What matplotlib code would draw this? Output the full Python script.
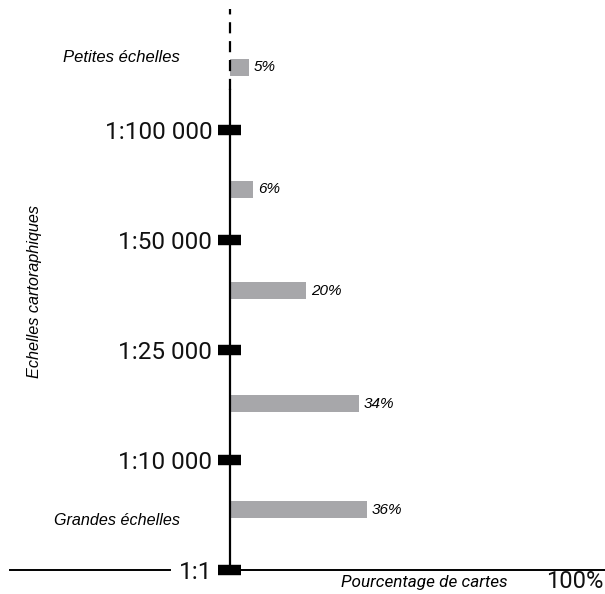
import matplotlib.pyplot as plt
import numpy as np

plt.rcParams['font.family'] = ['Roboto', 'DejaVu Sans']

# data
scale_labels = ["1:1", "1:10 000", "1:25 000", "1:50 000", "1:100 000"]
bar_pos = [0.55, 1.51, 2.54, 3.46, 4.57]
shares = [36, 34, 20, 6, 5]

arial = ['Liberation Sans', 'DejaVu Sans']

fig = plt.figure(figsize=(6.05, 5.94), dpi=100)
ax = fig.add_axes([230 / 605, 24 / 594, 380 / 605, 5.3 * 110 / 594])
ax.set_xlim(0, 100)
ax.set_ylim(0, 5.3)
ax.axis('off')

ax.barh(bar_pos, shares, height=0.155, color='#a7a7aa', zorder=2)
for y, v in zip(bar_pos, shares):
    ax.text(v + 1.3, y, f"{v}%", fontsize=11, style='italic', family=arial,
            va='center', ha='left')

# vertical axis: solid then dashed on top
ax.plot([0, 0], [0, 4.36], color='black', lw=1.6, clip_on=False, zorder=3)
ax.plot([0, 0], [4.36, 5.1], color='black', lw=1.6, ls=(0, (5, 3.5)), clip_on=False, zorder=3)

# horizontal baseline, broken by the 1:1 label
ax.plot([-57.9, -15.8], [0, 0], color='black', lw=1.4, clip_on=False)
ax.plot([0, 100], [0, 0], color='black', lw=1.4, clip_on=False)

# scale ticks as black blocks
for i, lab in enumerate(scale_labels):
    ax.plot([-3.2, 3.0], [i, i], color='black', lw=7.5, solid_capstyle='butt',
            clip_on=False, zorder=4)
    ax.text(-4.7, i - 0.02, lab, fontsize=17.5, color='#111111', ha='right', va='center')

ax.text(-13.2, 4.66, "Petites échelles", fontsize=12, style='italic', family=arial,
        ha='right', va='center')
ax.text(-13.2, 0.45, "Grandes échelles", fontsize=11.6, style='italic', family=arial,
        ha='right', va='center')
fig.text(35 / 605, 1 - 292 / 594, "Echelles cartoraphiques", fontsize=11.7, style='italic',
         family=arial, rotation=90, ha='center', va='center')
fig.text(424 / 605, 1 - 582 / 594, "Pourcentage de cartes", fontsize=12.3, style='italic',
         ha='center', va='center')
fig.text(603 / 605, 1 - 581 / 594, "100%", fontsize=17, color='#111111', ha='right', va='center')

fig.savefig("out.png", dpi=100)
